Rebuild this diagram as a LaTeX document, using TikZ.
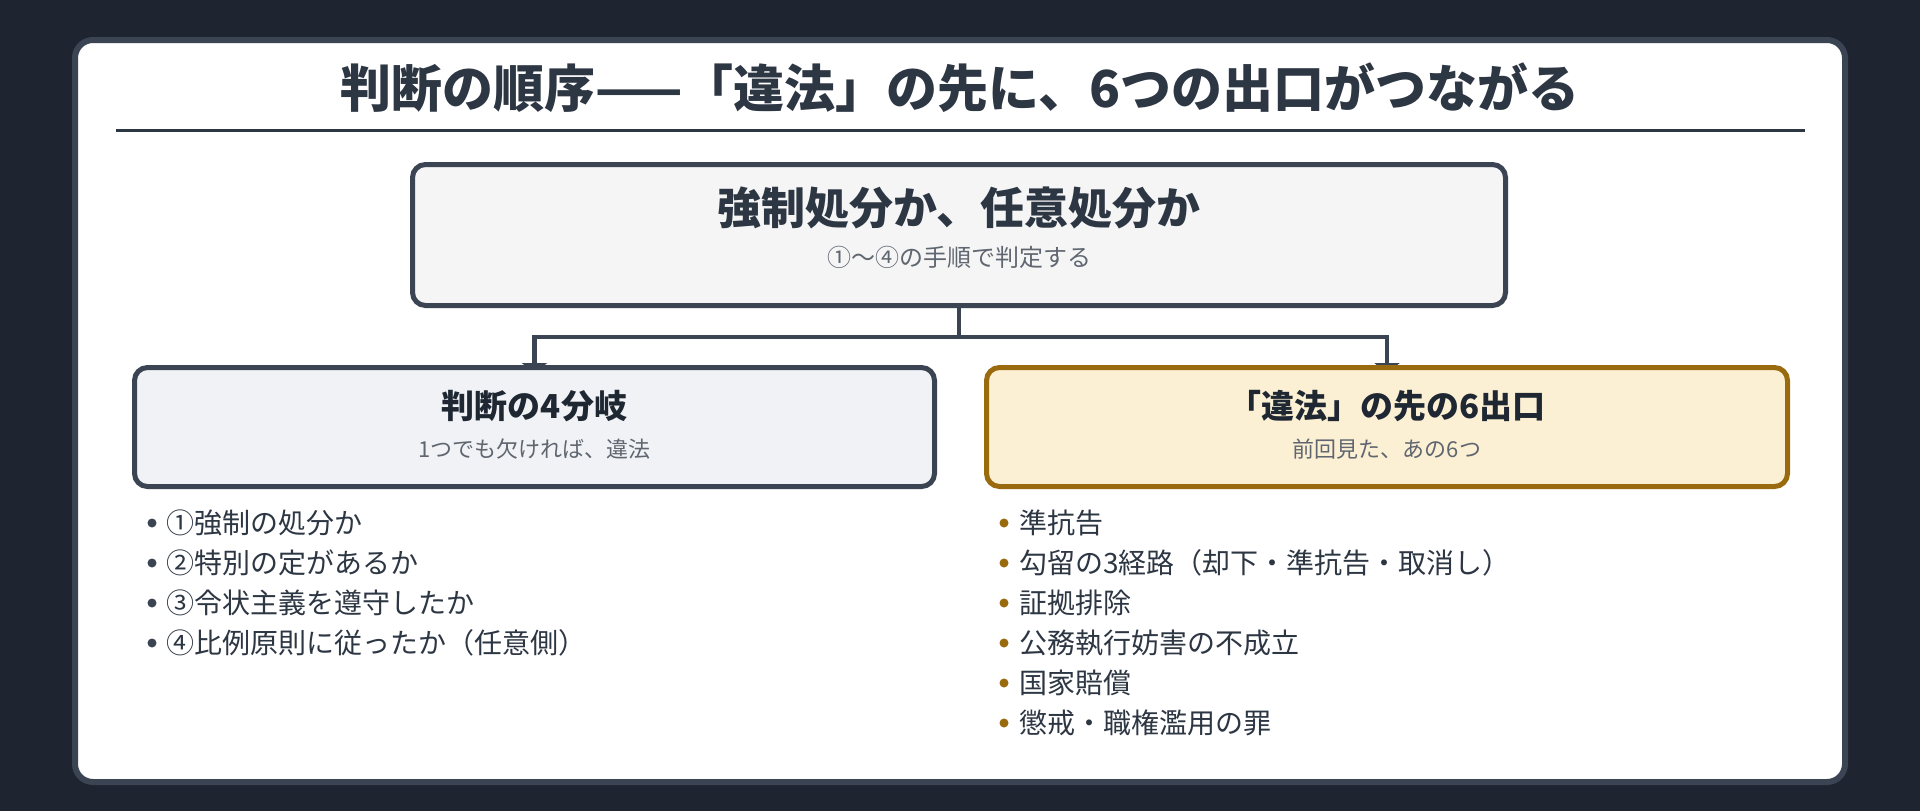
\documentclass[tikz,border=0pt]{standalone}
\usepackage{fontspec}
\setmainfont{Noto Sans CJK JP}
\usetikzlibrary{arrows.meta,positioning}
\definecolor{night}{HTML}{1E2430}
\definecolor{slate}{HTML}{3B4452}
\definecolor{ink}{HTML}{2D3643}
\definecolor{inkdark}{HTML}{1F2733}
\definecolor{muted}{HTML}{5F6670}
\definecolor{gold}{HTML}{9A6A0E}
\definecolor{cream}{HTML}{FCF0D4}
\definecolor{mist}{HTML}{F0F2F5}
\definecolor{paper}{HTML}{F5F5F5}
\pgfdeclarelayer{back}
\pgfdeclarelayer{wires}
\pgfsetlayers{back,wires,main}
\newcommand{\fs}[1]{\fontsize{#1}{#1}\selectfont}

\begin{document}
\begin{tikzpicture}[x=1pt,y=-1pt,
    box/.style={draw=slate,line width=5pt,rounded corners=13pt},
    conn/.style={draw=slate,line width=4.5pt,-{Triangle[width=25pt,length=10pt]}},
    head/.style={text=inkdark,font=\bfseries\fs{33}},
    sub/.style={text=muted,font=\fs{22}},
    item/.style={anchor=west,inner sep=0pt,text=ink,font=\fs{28}}]
    \begin{pgfonlayer}{back}
    \fill[night] (0,0) rectangle (1920,811);
    \draw[slate,fill=white,line width=6pt,rounded corners=18pt] (75,40) rectangle (1845,782);
    \end{pgfonlayer}
    \node[text=ink,font=\bfseries\fs{51}] (title) at (960,88) {判断の順序——「違法」の先に、6つの出口がつながる};
    \draw[ink,line width=3pt] (116,130) coordinate (rule-l) -- (1805,130) coordinate (rule-r);

    \node[box,fill=paper,minimum width=1093pt,minimum height=141pt] (top) at (959,235) {};
    \node[text=ink,font=\bfseries\fs{44}] (top-head) at (959,208) {強制処分か、任意処分か};
    \node[sub,font=\fs{24}] (top-sub) at (959,257) {①〜④の手順で判定する};

    \node[box,fill=mist,minimum width=800pt,minimum height=119pt] (four) at (534.5,427) {};
    \node[head] (four-head) at (534.5,406) {判断の4分岐};
    \node[sub] (four-sub) at (534.5,449) {1つでも欠ければ、違法};

    \node[box,draw=gold,fill=cream,minimum width=801pt,minimum height=119pt] (six) at (1387,427) {};
    \node[head] (six-head) at (1387,406) {「違法」の先の6出口};
    \node[sub] (six-sub) at (1387,449) {前回見た、あの6つ};

    \coordinate (split) at (959,337);
    \begin{pgfonlayer}{wires}
    \draw[conn] (top.south) -- (split) -| ([yshift=-8pt]four.north);
    \draw[conn] (split) -| ([yshift=-8pt]six.north);
    \end{pgfonlayer}

    \foreach \t [count=\i] in {①強制の処分か,②特別の定があるか,③令状主義を遵守したか,④比例原則に従ったか（任意側）}{
        \fill[slate] (152,483+40*\i) circle[radius=4.5];
        \node[item] (four-\i) at (166,483+40*\i) {\t};
    }
    \foreach \t [count=\i] in {準抗告,勾留の3経路（却下・準抗告・取消し）,証拠排除,公務執行妨害の不成立,国家賠償,懲戒・職権濫用の罪}{
        \fill[gold] (1004,483+40*\i) circle[radius=4.5];
        \node[item] (six-\i) at (1019,483+40*\i) {\t};
    }
\end{tikzpicture}
\end{document}
